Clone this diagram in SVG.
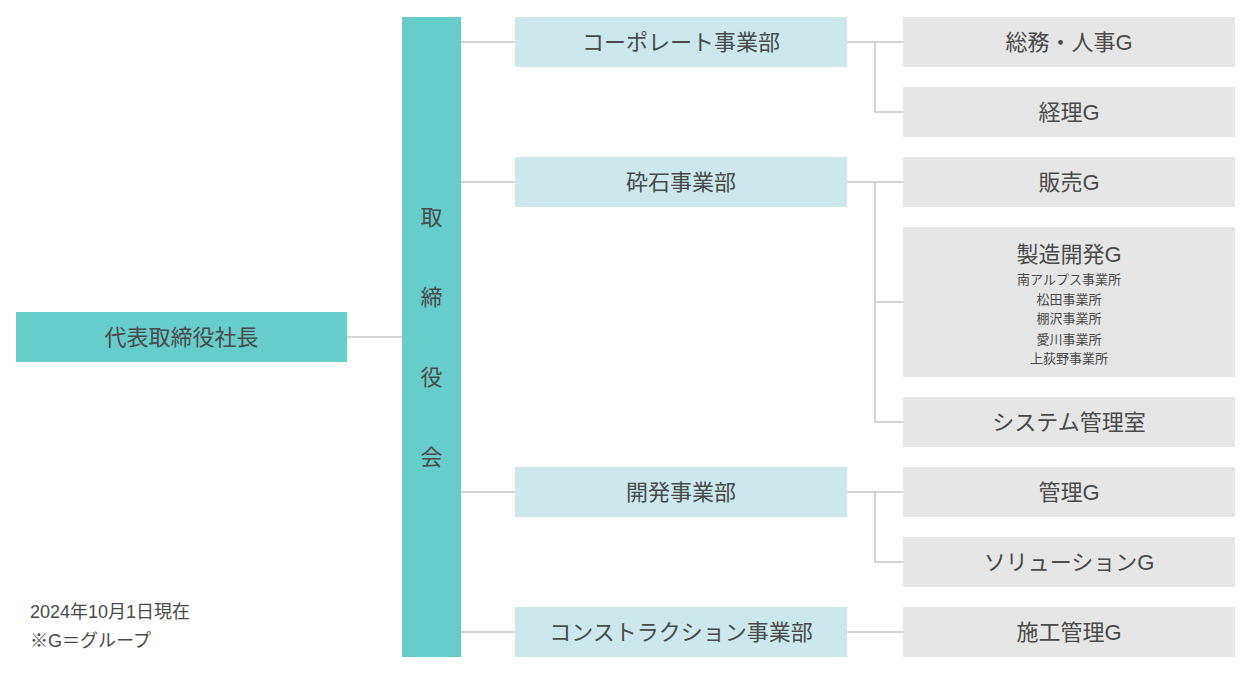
<svg xmlns="http://www.w3.org/2000/svg" width="1251" height="674" viewBox="0 0 1251 674">
<style>
text{font-family:"Liberation Sans","Noto Sans CJK JP",sans-serif;fill:#4a4a4a;}
.lbl{font-size:22px;text-anchor:middle;dominant-baseline:central;}
.sub{font-size:13px;text-anchor:middle;dominant-baseline:central;}
.note{font-size:18px;}
.top{fill:#66CDCB;}
.dept{fill:#CCE8EC;}
.grp{fill:#E6E6E6;}
.conn{fill:none;stroke:#C8C8C8;stroke-width:1.5;}
</style>
<rect width="1251" height="674" fill="#fff"/>
<g id="connectors">
<path class="conn" d="M347 337H402"/>
<path class="conn" d="M461 42H515M461 182H515M461 492H515M461 632H515"/>
<path class="conn" d="M847 42H903M875 42V112H903"/>
<path class="conn" d="M847 182H903M875 182V422H903M875 302H903"/>
<path class="conn" d="M847 492H903M875 492V562H903"/>
<path class="conn" d="M847 632H903"/>
</g>
<g id="president"><rect class="top" x="16" y="312" width="331" height="50"/><text class="lbl" x="181.500" y="337">代表取締役社長</text></g>
<g id="board"><rect class="top" x="402" y="17" width="59" height="640"/>
<text class="lbl" x="431.500" y="217">取</text><text class="lbl" x="431.500" y="297">締</text><text class="lbl" x="431.500" y="377">役</text><text class="lbl" x="431.500" y="457">会</text></g>
<g id="dept-corporate"><rect class="dept" x="515" y="17" width="332" height="50"/><text class="lbl" x="681" y="42">コーポレート事業部</text></g>
<g id="dept-saiseki"><rect class="dept" x="515" y="157" width="332" height="50"/><text class="lbl" x="681" y="182">砕石事業部</text></g>
<g id="dept-kaihatsu"><rect class="dept" x="515" y="467" width="332" height="50"/><text class="lbl" x="681" y="492">開発事業部</text></g>
<g id="dept-construction"><rect class="dept" x="515" y="607" width="332" height="50"/><text class="lbl" x="681" y="632">コンストラクション事業部</text></g>
<g id="grp-soumu"><rect class="grp" x="903" y="17" width="332" height="50"/><text class="lbl" x="1069" y="42">総務・人事G</text></g>
<g id="grp-keiri"><rect class="grp" x="903" y="87" width="332" height="50"/><text class="lbl" x="1069" y="112">経理G</text></g>
<g id="grp-hanbai"><rect class="grp" x="903" y="157" width="332" height="50"/><text class="lbl" x="1069" y="182">販売G</text></g>
<g id="grp-seizou"><rect class="grp" x="903" y="227" width="332" height="150"/><text class="lbl" x="1069" y="254">製造開発G</text>
<text class="sub" x="1069" y="279">南アルプス事業所</text><text class="sub" x="1069" y="299">松田事業所</text><text class="sub" x="1069" y="318">棚沢事業所</text><text class="sub" x="1069" y="339">愛川事業所</text><text class="sub" x="1069" y="358">上荻野事業所</text></g>
<g id="grp-system"><rect class="grp" x="903" y="397" width="332" height="50"/><text class="lbl" x="1069" y="422">システム管理室</text></g>
<g id="grp-kanri"><rect class="grp" x="903" y="467" width="332" height="50"/><text class="lbl" x="1069" y="492">管理G</text></g>
<g id="grp-solution"><rect class="grp" x="903" y="537" width="332" height="50"/><text class="lbl" x="1069" y="562">ソリューションG</text></g>
<g id="grp-sekou"><rect class="grp" x="903" y="607" width="332" height="50"/><text class="lbl" x="1069" y="632">施工管理G</text></g>
<g id="note"><text class="note" x="30" y="618">2024年10月1日現在</text><text class="note" x="30" y="647">※G＝グループ</text></g>
</svg>
